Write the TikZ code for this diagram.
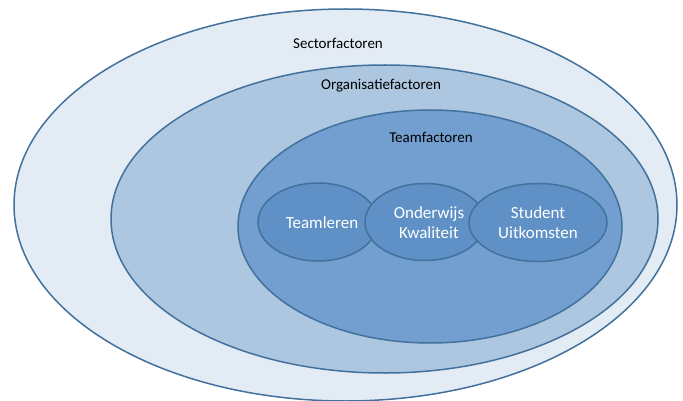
\documentclass[tikz,border=0pt]{standalone}
\usepackage{fontspec}
\setmainfont{Carlito}
\usetikzlibrary{shapes.geometric}
\definecolor{edgeblue}{HTML}{41719C}
\definecolor{fillA}{HTML}{E3EBF5}
\definecolor{fillB}{HTML}{ADC7E1}
\definecolor{fillC}{HTML}{729FCF}
\definecolor{fillD}{HTML}{5F90C6}
\begin{document}
\begin{tikzpicture}[x=1pt,y=-1pt,
  ring/.style={ellipse, draw=edgeblue, line width=1.5pt, inner sep=0pt},
  darklabel/.style={text=black, font=\fontsize{15}{18}\selectfont, align=center},
  lightlabel/.style={text=white, font=\fontsize{17}{20}\selectfont, align=center}]
\useasboundingbox (0,0) rectangle (683,401);
\node[ring, fill=fillA, minimum width=663pt, minimum height=392pt] (sector) at (345.5,205) {};
\node[ring, fill=fillB, minimum width=547pt, minimum height=308pt] (org) at (384.5,219) {};
\node[ring, fill=fillC, minimum width=384pt, minimum height=233pt] (team) at (430,226.5) {};
\node[ring, fill=fillD, minimum width=120pt, minimum height=78pt] (leren) at (318,222) {};
\node[ring, fill=fillD, minimum width=120pt, minimum height=77pt] (kwal) at (425,222) {};
\node[ring, fill=fillD, minimum width=138pt, minimum height=78pt] (stud) at (538,222.5) {};
\node[darklabel] (tsector) at (338,43) {Sectorfactoren};
\node[darklabel] (torg) at (381,86) {Organisatiefactoren};
\node[darklabel] (tteam) at (431,137) {Teamfactoren};
\node[lightlabel] (tleren) at (322,223) {Teamleren};
\node[lightlabel] (tkwal) at (429,223) {Onderwijs\\Kwaliteit};
\node[lightlabel] (tstud) at (538,223) {Student\\Uitkomsten};
\end{tikzpicture}
\end{document}
